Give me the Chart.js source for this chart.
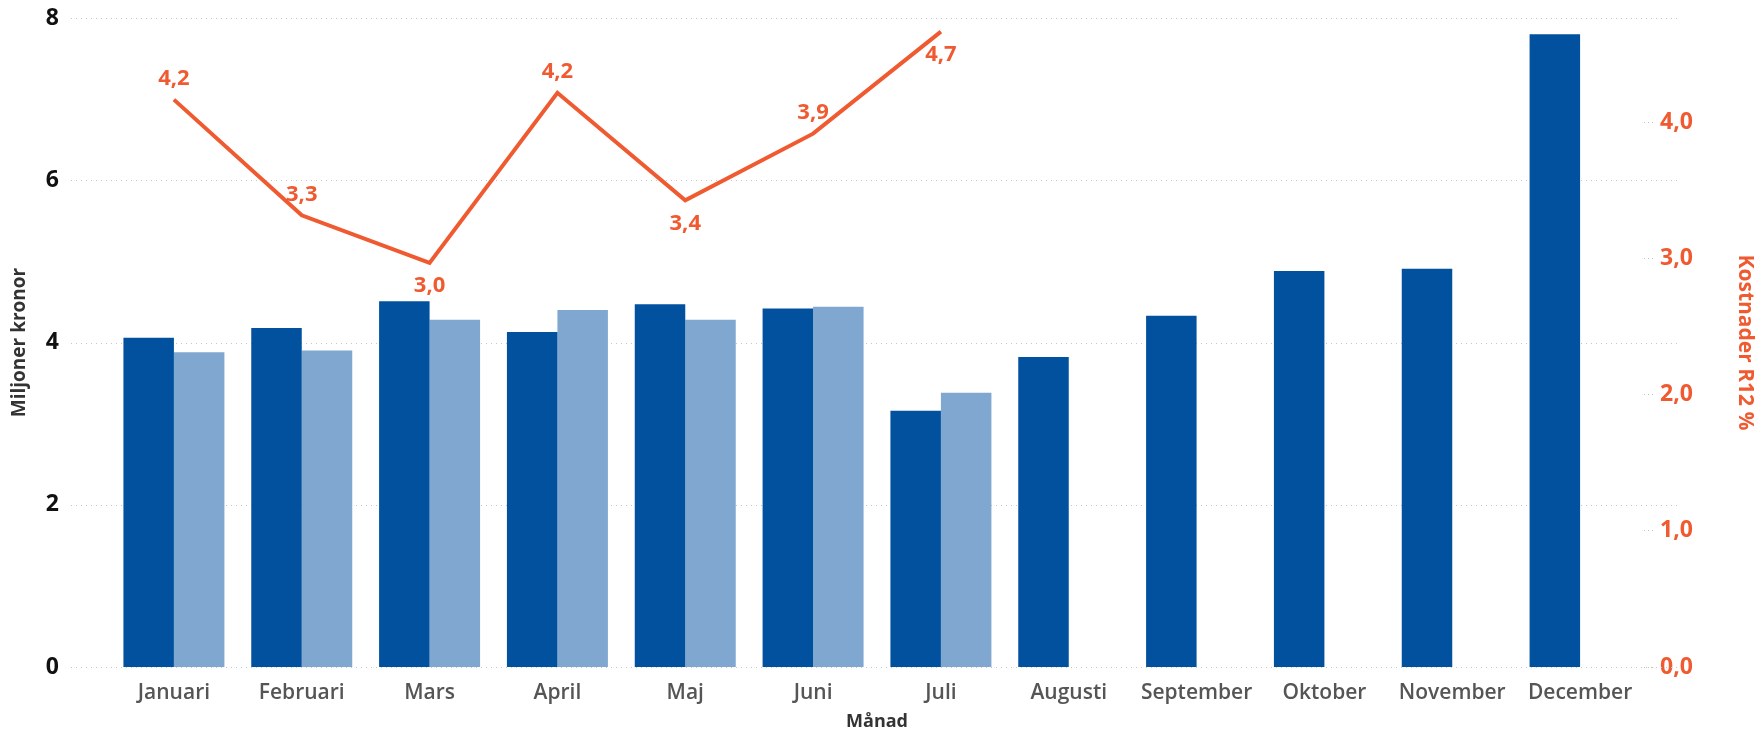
<!DOCTYPE html>
<html>
<head>
<meta charset="utf-8">
<script src="https://cdn.jsdelivr.net/npm/chart.js@4.4.1/dist/chart.umd.min.js"></script>
<style>
  html, body { margin: 0; padding: 0; background: #fff; }
  #wrap { width: 1759px; height: 734px; }
</style>
</head>
<body>
<div id="wrap"><canvas id="chart" width="1759" height="734"></canvas></div>
<script>
const months = ['Januari', 'Februari', 'Mars', 'April', 'Maj', 'Juni', 'Juli', 'Augusti', 'September', 'Oktober', 'November', 'December'];
const costThisYear = [4.06, 4.18, 4.51, 4.13, 4.47, 4.42, 3.16, 3.82, 4.33, 4.88, 4.91, 7.80];
const costLastYear = [3.88, 3.90, 4.28, 4.40, 4.28, 4.44, 3.38, null, null, null, null, null];
const costR12 = [4.17, 3.32, 2.97, 4.22, 3.43, 3.92, 4.67, null, null, null, null, null];
const leftTicks = [0, 2, 4, 6, 8];
const rightTicks = [0, 1, 2, 3, 4];

const orange = '#F05A30';
const darkBlue = '#01519F';
const lightBlue = '#80A7D0';

// where each line label sits relative to its point (-1 above, 1 below)
const labelSide = [-1, -1, 1, -1, 1, -1, 1];

// dotted grid lines, drawn a bit wider than the bar area
const gridPlugin = {
    id: 'wideGrid',
    beforeDatasetsDraw(chart) {
        const ctx = chart.ctx;
        const y = chart.scales.y;
        ctx.save();
        ctx.strokeStyle = '#c4c4c4';
        ctx.lineWidth = 1;
        ctx.setLineDash([1, 4]);
        leftTicks.forEach(v => {
            const py = Math.round(y.getPixelForValue(v)) + 0.5;
            ctx.beginPath();
            ctx.moveTo(71, py);
            ctx.lineTo(1677, py);
            ctx.stroke();
        });
        ctx.restore();
    }
};

// value labels on the R12 line
const lineLabels = {
    id: 'lineLabels',
    afterDatasetsDraw(chart) {
        const ctx = chart.ctx;
        const meta = chart.getDatasetMeta(2);
        ctx.save();
        ctx.font = 'bold 22px "Open Sans"';
        ctx.fillStyle = orange;
        ctx.textAlign = 'center';
        ctx.textBaseline = 'middle';
        meta.data.forEach((pt, i) => {
            const v = costR12[i];
            if (v === null) return;
            const dy = labelSide[i] < 0 ? -21 : 23;
            ctx.fillText(v.toFixed(1).replace('.', ','), pt.x, pt.y + dy);
        });
        ctx.restore();
    }
};

function noPad(s) {
    s.paddingTop = 0;
    s.paddingBottom = 0;
}

const ctx = document.getElementById('chart').getContext('2d');
const chart = new Chart(ctx, {
    type: 'bar',
    data: {
        labels: months,
        datasets: [
            {
                label: 'I år',
                data: costThisYear,
                backgroundColor: darkBlue,
                yAxisID: 'y',
                order: 2
            },
            {
                label: 'Förra året',
                data: costLastYear,
                backgroundColor: lightBlue,
                yAxisID: 'y',
                order: 3
            },
            {
                type: 'line',
                label: 'Kostnader R12 %',
                data: costR12,
                borderColor: orange,
                borderWidth: 4,
                pointRadius: 0,
                fill: false,
                tension: 0,
                yAxisID: 'y1',
                order: 0
            }
        ]
    },
    options: {
        responsive: false,
        animation: false,
        devicePixelRatio: 1,
        layout: { padding: { top: 18, left: 0, right: 0, bottom: 0 } },
        plugins: {
            legend: { display: false },
            tooltip: { enabled: false }
        },
        datasets: {
            bar: { barPercentage: 1, categoryPercentage: 0.79 }
        },
        scales: {
            x: {
                grid: { display: false },
                border: { display: false },
                ticks: {
                    color: '#555',
                    font: { family: 'Open Sans', size: 21, weight: '600' },
                    padding: 5,
                    maxRotation: 0,
                    autoSkip: false
                },
                title: {
                    display: true,
                    text: 'Månad',
                    color: '#333',
                    font: { family: 'Open Sans', size: 18, weight: 'bold' },
                    padding: { top: 0, bottom: 1 }
                },
                afterFit(s) { s.height = 67; }
            },
            y: {
                position: 'left',
                min: 0,
                max: 8,
                afterBuildTicks(s) { s.ticks = leftTicks.map(v => ({ value: v })); },
                grid: { display: false },
                border: { display: false },
                ticks: {
                    color: '#111',
                    font: { family: 'Open Sans', size: 23, weight: 'bold' },
                    padding: 43
                },
                title: {
                    display: true,
                    text: 'Miljoner kronor',
                    color: '#333',
                    font: { family: 'Open Sans', size: 19, weight: 'bold' },
                    padding: { top: 8, bottom: 0 }
                },
                afterFit(s) { s.width = 110; noPad(s); }
            },
            y1: {
                position: 'right',
                min: 0,
                max: 4.77,
                afterBuildTicks(s) { s.ticks = rightTicks.map(v => ({ value: v })); },
                grid: {
                    drawOnChartArea: false,
                    drawTicks: true,
                    tickLength: 10,
                    tickColor: '#c4c4c4',
                    tickBorderDash: [1, 3]
                },
                border: { display: false },
                ticks: {
                    color: orange,
                    font: { family: 'Open Sans', size: 23, weight: 'bold' },
                    padding: 6,
                    callback: v => v.toFixed(1).replace('.', ',')
                },
                title: {
                    display: true,
                    text: 'Kostnader R12 %',
                    color: orange,
                    font: { family: 'Open Sans', size: 21, weight: 'bold' },
                    padding: { top: 1, bottom: 0 }
                },
                afterFit(s) { s.width = 115; noPad(s); }
            }
        }
    },
    plugins: [gridPlugin, lineLabels]
});
</script>
</body>
</html>
